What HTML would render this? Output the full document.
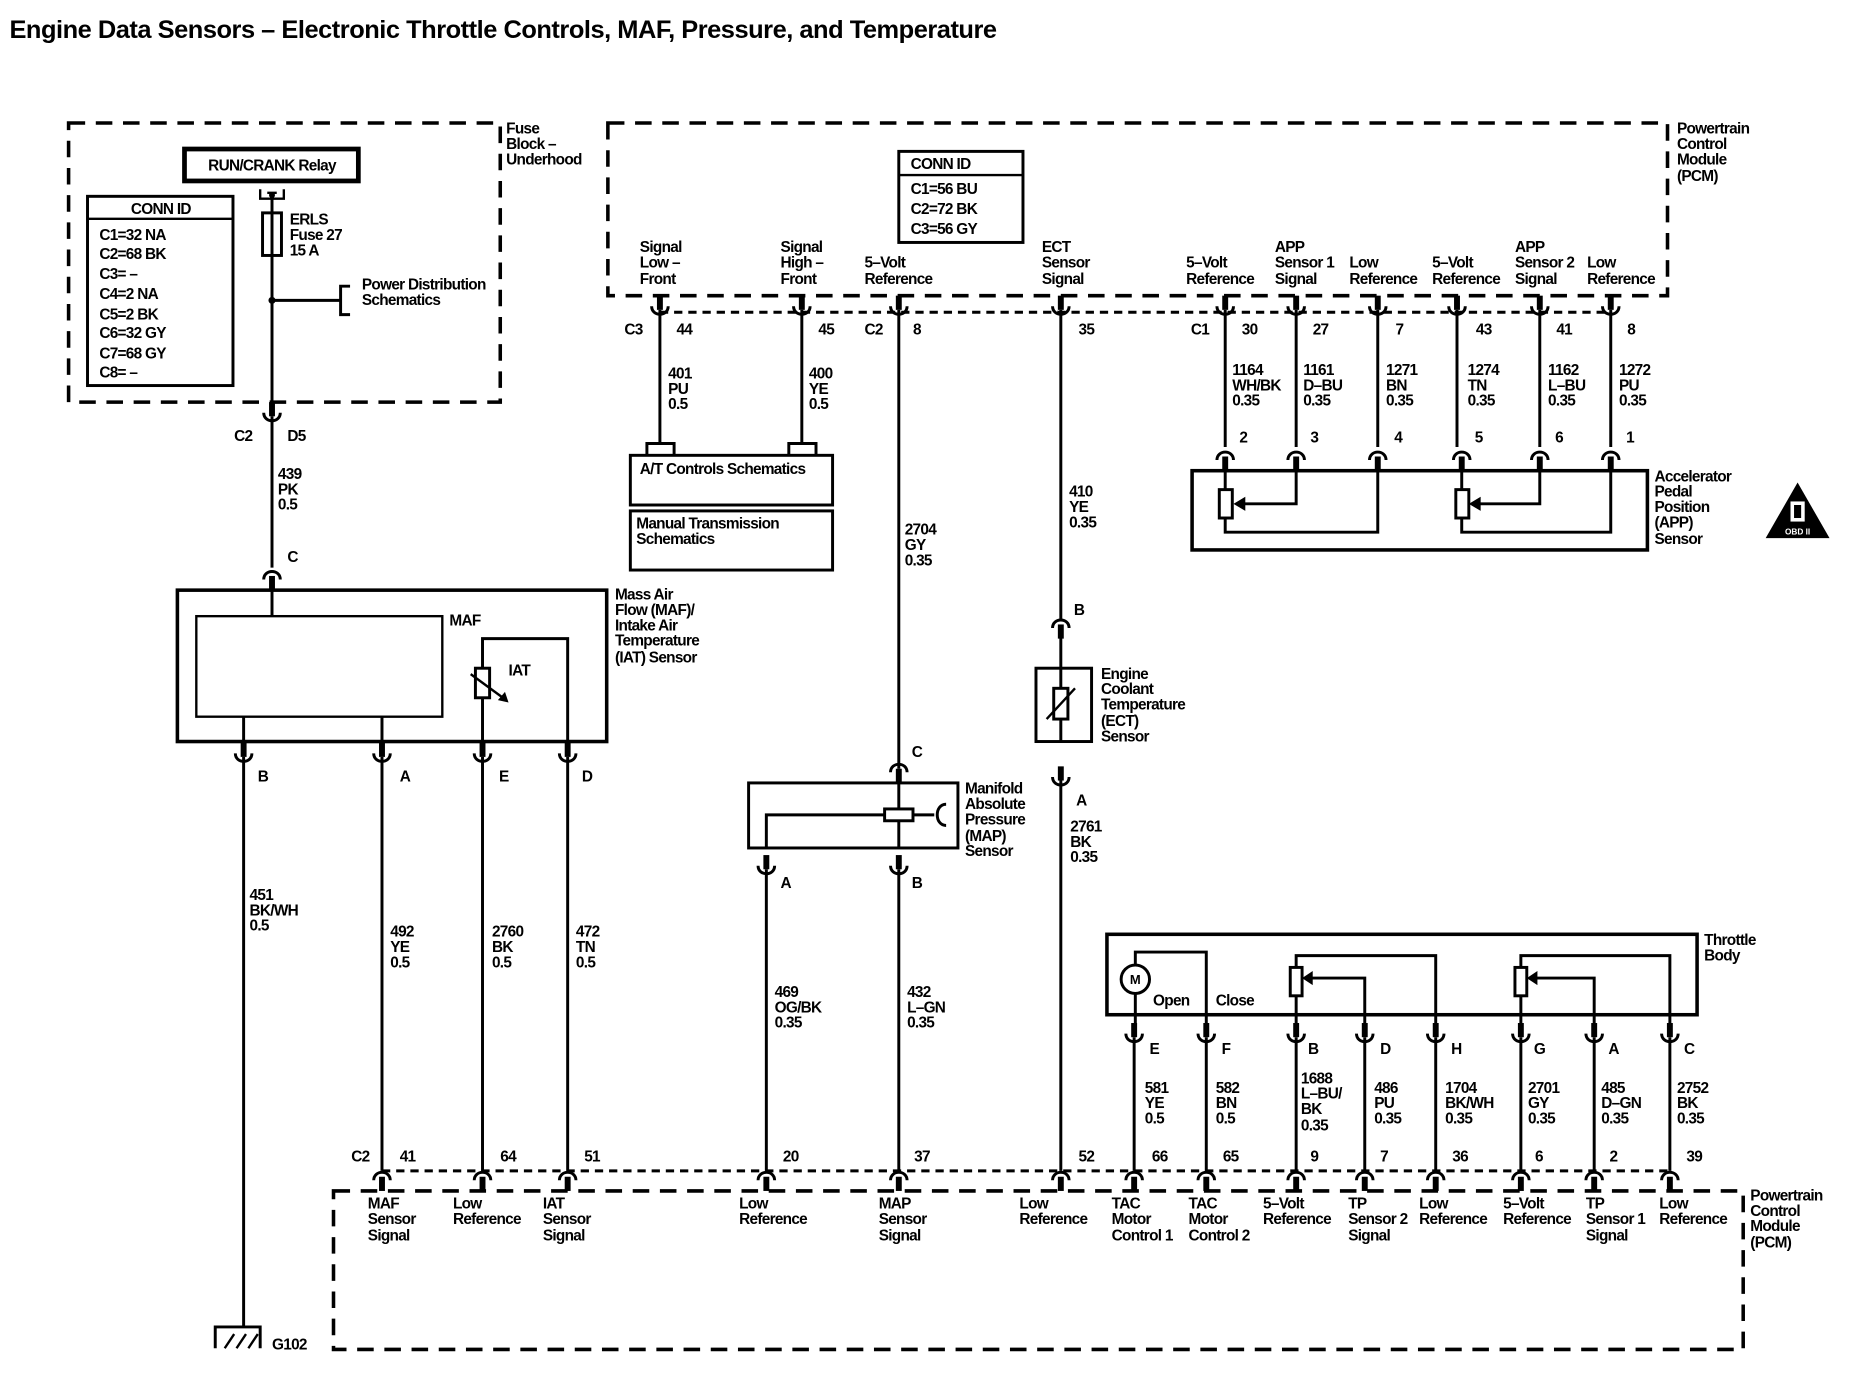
<!DOCTYPE html>
<html><head><meta charset="utf-8"><style>
html,body{margin:0;padding:0;background:#fff}
svg{display:block}
text{font-family:"Liberation Sans",sans-serif;font-size:13px;font-weight:bold;fill:#000;letter-spacing:-0.6px}
.b{font-weight:bold}
</style></head><body>
<svg width="1852" height="1392" viewBox="0 0 1566 1177" preserveAspectRatio="none" xmlns="http://www.w3.org/2000/svg">
<defs>
<g id="u"><path d="M-7,-3 C-7,6 7,6 7,-3" fill="none" stroke="#000" stroke-width="2.5"/><rect x="-2.5" y="-12" width="5" height="12" fill="#000"/></g>
<g id="n"><path d="M-7,3 C-7,-6 7,-6 7,3" fill="none" stroke="#000" stroke-width="2.5"/><rect x="-2.5" y="0" width="5" height="12" fill="#000"/></g>
</defs>
<text x="8" y="32" class="b" style="font-size:21.5px;letter-spacing:-0.4px">Engine Data Sensors – Electronic Throttle Controls, MAF, Pressure, and Temperature</text>

<g fill="none" stroke="#000">
<rect x="58" y="104" width="365" height="236" stroke-width="3" stroke-dasharray="14,9"/>
<rect x="514" y="104" width="896" height="146" stroke-width="3" stroke-dasharray="14,9"/>
<rect x="282" y="1007" width="1192" height="134" stroke-width="3" stroke-dasharray="14,9"/>
<line x1="558" y1="264" x2="1362" y2="264" stroke-width="2.5" stroke-dasharray="7,5"/>
<line x1="323" y1="990" x2="1412" y2="990" stroke-width="2.5" stroke-dasharray="7,5"/>
<rect x="156" y="126" width="147" height="27" stroke-width="4"/>
<rect x="74" y="166" width="123" height="160" stroke-width="2.5"/>
<line x1="74" y1="185" x2="197" y2="185" stroke-width="2"/>
<path d="M220,160 V168 H240 V160 M226,163 H234" stroke-width="2"/>
<rect x="222" y="180" width="16" height="36" stroke-width="2.5"/>
<line x1="230" y1="163" x2="230" y2="340" stroke-width="2.5"/>
<line x1="230" y1="254" x2="288" y2="254" stroke-width="2.5"/>
<path d="M296,242 H288 V266 H296" stroke-width="2.5"/>
<line x1="230" y1="352" x2="230" y2="480" stroke-width="2.5"/>
<rect x="150" y="499" width="363" height="128" stroke-width="3"/>
<rect x="166" y="521" width="208" height="85" stroke-width="2"/>
<line x1="230" y1="490" x2="230" y2="521" stroke-width="2.5"/>
<line x1="206" y1="606" x2="206" y2="627" stroke-width="2.5"/>
<line x1="323" y1="606" x2="323" y2="627" stroke-width="2.5"/>
<path d="M408,565 V540 H480 V627" stroke-width="2.5"/>
<rect x="402" y="565" width="12" height="25" stroke-width="2.5"/>
<line x1="408" y1="590" x2="408" y2="627" stroke-width="2.5"/>
<path d="M398,570 L428,592" stroke-width="2"/>
<line x1="206" y1="640" x2="206" y2="1122" stroke-width="2.5"/>
<line x1="323" y1="640" x2="323" y2="990" stroke-width="2.5"/>
<line x1="408" y1="640" x2="408" y2="990" stroke-width="2.5"/>
<line x1="480" y1="640" x2="480" y2="990" stroke-width="2.5"/>
<path d="M182,1140 V1122 H220 V1140" stroke-width="2.5"/>
<path d="M190,1140 L198,1128 M200,1140 L208,1128 M210,1140 L218,1128" stroke-width="2"/>
<line x1="558" y1="262" x2="558" y2="375" stroke-width="2.5"/>
<line x1="678" y1="262" x2="678" y2="375" stroke-width="2.5"/>
<path d="M547,386 V375 H570 V386 M667,386 V375 H690 V386" stroke-width="2.5"/>
<rect x="533" y="385" width="171" height="42" stroke-width="2.5"/>
<rect x="533" y="432" width="171" height="50" stroke-width="2.5"/>
<rect x="760" y="128" width="105" height="77" stroke-width="2.5"/>
<line x1="760" y1="148" x2="865" y2="148" stroke-width="2"/>
<line x1="760" y1="262" x2="760" y2="650" stroke-width="2.5"/>
<rect x="633" y="662" width="177" height="55" stroke-width="2.5"/>
<line x1="760" y1="662" x2="760" y2="717" stroke-width="2.5"/>
<rect x="748" y="684" width="24" height="10" stroke-width="2.5" fill="#fff"/>
<path d="M648,717 V689 H748 M772,689 H790" stroke-width="2.5"/>
<path d="M800,680 C790,680 790,698 800,698" stroke-width="2.5"/>
<line x1="648" y1="735" x2="648" y2="990" stroke-width="2.5"/>
<line x1="760" y1="735" x2="760" y2="990" stroke-width="2.5"/>
<line x1="897" y1="262" x2="897" y2="525" stroke-width="2.5"/>
<rect x="876" y="565" width="47" height="62" stroke-width="2.5"/>
<line x1="897" y1="537" x2="897" y2="627" stroke-width="2.5"/>
<rect x="891" y="582" width="12" height="26" stroke-width="2.5" fill="#fff"/>
<path d="M885,608 L909,582" stroke-width="2"/>
<line x1="897" y1="660" x2="897" y2="990" stroke-width="2.5"/>
<g stroke-width="2.5">
<line x1="1036" y1="262" x2="1036" y2="378"/><line x1="1096" y1="262" x2="1096" y2="378"/>
<line x1="1165" y1="262" x2="1165" y2="378"/><line x1="1232" y1="262" x2="1232" y2="378"/>
<line x1="1302" y1="262" x2="1302" y2="378"/><line x1="1362" y1="262" x2="1362" y2="378"/>
</g>
<rect x="1008" y="398" width="385" height="67" stroke-width="3"/>
<path d="M1036,398 V414 M1036,438 V450 H1165 V398 M1096,398 V426 H1050" stroke-width="2.5"/>
<rect x="1031" y="414" width="11" height="24" stroke-width="2.5"/>
<path d="M1236,398 V414 M1236,438 V450 H1362 V398 M1302,398 V426 H1250" stroke-width="2.5"/>
<rect x="1231" y="414" width="11" height="24" stroke-width="2.5"/>
<rect x="936" y="790" width="499" height="68" stroke-width="3"/>
<circle cx="960" cy="828" r="12" stroke-width="2.5"/>
<path d="M960,816 V805 H1020 V865 M960,840 V865" stroke-width="2.5"/>
<path d="M1096,818 V808 H1214 V865 M1096,842 V865 M1154,865 V827 H1108" stroke-width="2.5"/>
<rect x="1091" y="818" width="10" height="24" stroke-width="2.5"/>
<path d="M1286,818 V808 H1412 V865 M1286,842 V865 M1348,865 V827 H1298" stroke-width="2.5"/>
<rect x="1281" y="818" width="10" height="24" stroke-width="2.5"/>
<g stroke-width="2.5">
<line x1="959" y1="877" x2="959" y2="990"/><line x1="1020" y1="877" x2="1020" y2="990"/>
<line x1="1096" y1="877" x2="1096" y2="990"/><line x1="1154" y1="877" x2="1154" y2="990"/>
<line x1="1214" y1="877" x2="1214" y2="990"/><line x1="1286" y1="877" x2="1286" y2="990"/>
<line x1="1348" y1="877" x2="1348" y2="990"/><line x1="1412" y1="877" x2="1412" y2="990"/>
</g>
</g>
<path d="M1043,426 L1053,420 L1053,432 Z M1242,426 L1252,420 L1252,432 Z M1101,827 L1110,821 L1110,833 Z M1291,827 L1300,821 L1300,833 Z M430,594 L421,592 L427,585 Z"/>
<circle cx="230" cy="254" r="3"/><circle cx="230" cy="165" r="2.5"/>
<use href="#u" x="230" y="352"/>
<use href="#n" x="230" y="487"/>
<use href="#u" x="206" y="640"/><use href="#u" x="323" y="640"/><use href="#u" x="408" y="640"/><use href="#u" x="480" y="640"/>
<use href="#u" x="558" y="262"/><use href="#u" x="678" y="262"/><use href="#u" x="760" y="262"/><use href="#u" x="897" y="262"/>
<use href="#u" x="1036" y="262"/><use href="#u" x="1096" y="262"/><use href="#u" x="1165" y="262"/><use href="#u" x="1232" y="262"/><use href="#u" x="1302" y="262"/><use href="#u" x="1362" y="262"/>
<use href="#n" x="1036" y="386"/><use href="#n" x="1096" y="386"/><use href="#n" x="1165" y="386"/><use href="#n" x="1236" y="386"/><use href="#n" x="1302" y="386"/><use href="#n" x="1362" y="386"/>
<use href="#n" x="760" y="650"/><use href="#u" x="648" y="735"/><use href="#u" x="760" y="735"/>
<use href="#n" x="897" y="528"/><use href="#u" x="897" y="660"/>
<use href="#u" x="959" y="877"/><use href="#u" x="1020" y="877"/><use href="#u" x="1096" y="877"/><use href="#u" x="1154" y="877"/><use href="#u" x="1214" y="877"/><use href="#u" x="1286" y="877"/><use href="#u" x="1348" y="877"/><use href="#u" x="1412" y="877"/>
<use href="#n" x="323" y="995"/><use href="#n" x="408" y="995"/><use href="#n" x="480" y="995"/><use href="#n" x="648" y="995"/><use href="#n" x="760" y="995"/><use href="#n" x="897" y="995"/><use href="#n" x="959" y="995"/><use href="#n" x="1020" y="995"/><use href="#n" x="1096" y="995"/><use href="#n" x="1154" y="995"/><use href="#n" x="1214" y="995"/><use href="#n" x="1286" y="995"/><use href="#n" x="1348" y="995"/><use href="#n" x="1412" y="995"/>
<path d="M1520,408 L1547,455 L1493,455 Z"/>
<rect x="1514" y="424" width="12" height="17" fill="#fff"/><rect x="1517" y="427" width="6" height="11"/>
<text x="1520" y="452" text-anchor="middle" style="font-size:7px;fill:#fff;letter-spacing:0">OBD II</text>

<text x="428" y="113">Fuse</text><text x="428" y="126">Block –</text><text x="428" y="139">Underhood</text>
<text x="230" y="144" text-anchor="middle">RUN/CRANK Relay</text>
<text x="136" y="181" text-anchor="middle">CONN ID</text>
<text x="84" y="203">C1=32 NA</text><text x="84" y="219">C2=68 BK</text><text x="84" y="236">C3= –</text><text x="84" y="253">C4=2 NA</text><text x="84" y="270">C5=2 BK</text><text x="84" y="286">C6=32 GY</text><text x="84" y="303">C7=68 GY</text><text x="84" y="319">C8= –</text>
<text x="245" y="190">ERLS</text><text x="245" y="203">Fuse 27</text><text x="245" y="216">15 A</text>
<text x="306" y="245">Power Distribution</text><text x="306" y="258">Schematics</text>
<text x="198" y="373">C2</text><text x="243" y="373">D5</text>
<text x="235" y="405">439</text><text x="235" y="418">PK</text><text x="235" y="431">0.5</text>
<text x="243" y="475">C</text>
<text x="520" y="507">Mass Air</text><text x="520" y="520">Flow (MAF)/</text><text x="520" y="533">Intake Air</text><text x="520" y="546">Temperature</text><text x="520" y="560">(IAT) Sensor</text>
<text x="380" y="529">MAF</text><text x="430" y="571">IAT</text>
<text x="218" y="661">B</text><text x="338" y="661">A</text><text x="422" y="661">E</text><text x="492" y="661">D</text>
<text x="211" y="761">451</text><text x="211" y="774">BK/WH</text><text x="211" y="787">0.5</text>
<text x="330" y="792">492</text><text x="330" y="805">YE</text><text x="330" y="818">0.5</text>
<text x="416" y="792">2760</text><text x="416" y="805">BK</text><text x="416" y="818">0.5</text>
<text x="487" y="792">472</text><text x="487" y="805">TN</text><text x="487" y="818">0.5</text>
<text x="230" y="1141">G102</text>
<text x="1418" y="113">Powertrain</text><text x="1418" y="126">Control</text><text x="1418" y="139">Module</text><text x="1418" y="153">(PCM)</text>
<text x="770" y="143">CONN ID</text>
<text x="770" y="164">C1=56 BU</text><text x="770" y="181">C2=72 BK</text><text x="770" y="198">C3=56 GY</text>
<text x="541" y="213">Signal</text><text x="541" y="226">Low –</text><text x="541" y="240">Front</text>
<text x="660" y="213">Signal</text><text x="660" y="226">High –</text><text x="660" y="240">Front</text>
<text x="731" y="226">5–Volt</text><text x="731" y="240">Reference</text>
<text x="881" y="213">ECT</text><text x="881" y="226">Sensor</text><text x="881" y="240">Signal</text>
<text x="1003" y="226">5–Volt</text><text x="1003" y="240">Reference</text>
<text x="1078" y="213">APP</text><text x="1078" y="226">Sensor 1</text><text x="1078" y="240">Signal</text>
<text x="1141" y="226">Low</text><text x="1141" y="240">Reference</text>
<text x="1211" y="226">5–Volt</text><text x="1211" y="240">Reference</text>
<text x="1281" y="213">APP</text><text x="1281" y="226">Sensor 2</text><text x="1281" y="240">Signal</text>
<text x="1342" y="226">Low</text><text x="1342" y="240">Reference</text>
<text x="528" y="283">C3</text><text x="572" y="283">44</text><text x="692" y="283">45</text>
<text x="731" y="283">C2</text><text x="772" y="283">8</text><text x="912" y="283">35</text>
<text x="1007" y="283">C1</text><text x="1050" y="283">30</text><text x="1110" y="283">27</text><text x="1180" y="283">7</text><text x="1248" y="283">43</text><text x="1316" y="283">41</text><text x="1376" y="283">8</text>
<text x="565" y="320">401</text><text x="565" y="333">PU</text><text x="565" y="346">0.5</text>
<text x="684" y="320">400</text><text x="684" y="333">YE</text><text x="684" y="346">0.5</text>
<text x="541" y="401">A/T Controls Schematics</text>
<text x="538" y="447">Manual Transmission</text><text x="538" y="460">Schematics</text>
<text x="1042" y="317">1164</text><text x="1042" y="330">WH/BK</text><text x="1042" y="343">0.35</text>
<text x="1102" y="317">1161</text><text x="1102" y="330">D–BU</text><text x="1102" y="343">0.35</text>
<text x="1172" y="317">1271</text><text x="1172" y="330">BN</text><text x="1172" y="343">0.35</text>
<text x="1241" y="317">1274</text><text x="1241" y="330">TN</text><text x="1241" y="343">0.35</text>
<text x="1309" y="317">1162</text><text x="1309" y="330">L–BU</text><text x="1309" y="343">0.35</text>
<text x="1369" y="317">1272</text><text x="1369" y="330">PU</text><text x="1369" y="343">0.35</text>
<text x="1048" y="374">2</text><text x="1108" y="374">3</text><text x="1179" y="374">4</text><text x="1247" y="374">5</text><text x="1315" y="374">6</text><text x="1375" y="374">1</text>
<text x="1399" y="407">Accelerator</text><text x="1399" y="420">Pedal</text><text x="1399" y="433">Position</text><text x="1399" y="446">(APP)</text><text x="1399" y="460">Sensor</text>
<text x="765" y="452">2704</text><text x="765" y="465">GY</text><text x="765" y="478">0.35</text>
<text x="771" y="640">C</text>
<text x="816" y="671">Manifold</text><text x="816" y="684">Absolute</text><text x="816" y="697">Pressure</text><text x="816" y="711">(MAP)</text><text x="816" y="724">Sensor</text>
<text x="660" y="751">A</text><text x="771" y="751">B</text>
<text x="655" y="843">469</text><text x="655" y="856">OG/BK</text><text x="655" y="869">0.35</text>
<text x="767" y="843">432</text><text x="767" y="856">L–GN</text><text x="767" y="869">0.35</text>
<text x="904" y="420">410</text><text x="904" y="433">YE</text><text x="904" y="446">0.35</text>
<text x="908" y="520">B</text>
<text x="931" y="574">Engine</text><text x="931" y="587">Coolant</text><text x="931" y="600">Temperature</text><text x="931" y="614">(ECT)</text><text x="931" y="627">Sensor</text>
<text x="910" y="681">A</text>
<text x="905" y="703">2761</text><text x="905" y="716">BK</text><text x="905" y="729">0.35</text>
<text x="1441" y="799">Throttle</text><text x="1441" y="812">Body</text>
<text x="960" y="832" text-anchor="middle" style="font-size:11px;letter-spacing:0">M</text>
<text x="975" y="850">Open</text><text x="1028" y="850">Close</text>
<text x="972" y="891">E</text><text x="1033" y="891">F</text><text x="1106" y="891">B</text><text x="1167" y="891">D</text><text x="1227" y="891">H</text><text x="1297" y="891">G</text><text x="1360" y="891">A</text><text x="1424" y="891">C</text>
<text x="968" y="924">581</text><text x="968" y="937">YE</text><text x="968" y="950">0.5</text>
<text x="1028" y="924">582</text><text x="1028" y="937">BN</text><text x="1028" y="950">0.5</text>
<text x="1100" y="916">1688</text><text x="1100" y="929">L–BU/</text><text x="1100" y="942">BK</text><text x="1100" y="956">0.35</text>
<text x="1162" y="924">486</text><text x="1162" y="937">PU</text><text x="1162" y="950">0.35</text>
<text x="1222" y="924">1704</text><text x="1222" y="937">BK/WH</text><text x="1222" y="950">0.35</text>
<text x="1292" y="924">2701</text><text x="1292" y="937">GY</text><text x="1292" y="950">0.35</text>
<text x="1354" y="924">485</text><text x="1354" y="937">D–GN</text><text x="1354" y="950">0.35</text>
<text x="1418" y="924">2752</text><text x="1418" y="937">BK</text><text x="1418" y="950">0.35</text>
<text x="297" y="982">C2</text><text x="338" y="982">41</text><text x="423" y="982">64</text><text x="494" y="982">51</text><text x="662" y="982">20</text><text x="773" y="982">37</text><text x="912" y="982">52</text><text x="974" y="982">66</text><text x="1034" y="982">65</text><text x="1108" y="982">9</text><text x="1167" y="982">7</text><text x="1228" y="982">36</text><text x="1298" y="982">6</text><text x="1361" y="982">2</text><text x="1426" y="982">39</text>
<text x="311" y="1022">MAF</text><text x="311" y="1035">Sensor</text><text x="311" y="1049">Signal</text>
<text x="383" y="1022">Low</text><text x="383" y="1035">Reference</text>
<text x="459" y="1022">IAT</text><text x="459" y="1035">Sensor</text><text x="459" y="1049">Signal</text>
<text x="625" y="1022">Low</text><text x="625" y="1035">Reference</text>
<text x="743" y="1022">MAP</text><text x="743" y="1035">Sensor</text><text x="743" y="1049">Signal</text>
<text x="862" y="1022">Low</text><text x="862" y="1035">Reference</text>
<text x="940" y="1022">TAC</text><text x="940" y="1035">Motor</text><text x="940" y="1049">Control 1</text>
<text x="1005" y="1022">TAC</text><text x="1005" y="1035">Motor</text><text x="1005" y="1049">Control 2</text>
<text x="1068" y="1022">5–Volt</text><text x="1068" y="1035">Reference</text>
<text x="1140" y="1022">TP</text><text x="1140" y="1035">Sensor 2</text><text x="1140" y="1049">Signal</text>
<text x="1200" y="1022">Low</text><text x="1200" y="1035">Reference</text>
<text x="1271" y="1022">5–Volt</text><text x="1271" y="1035">Reference</text>
<text x="1341" y="1022">TP</text><text x="1341" y="1035">Sensor 1</text><text x="1341" y="1049">Signal</text>
<text x="1403" y="1022">Low</text><text x="1403" y="1035">Reference</text>
<text x="1480" y="1015">Powertrain</text><text x="1480" y="1028">Control</text><text x="1480" y="1041">Module</text><text x="1480" y="1055">(PCM)</text>
</svg>
</body></html>
